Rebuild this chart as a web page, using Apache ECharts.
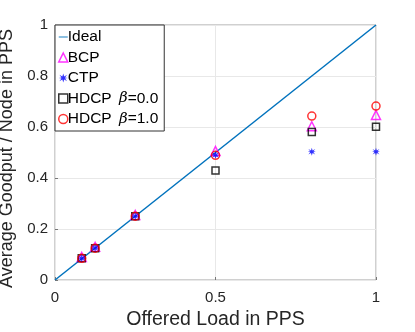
<!DOCTYPE html>
<html>
<head>
<meta charset="utf-8">
<script src="https://cdn.jsdelivr.net/npm/echarts@6/dist/echarts.min.js"></script>
<style>
  html, body { margin: 0; padding: 0; background: #fff; }
  #chart { width: 415px; height: 332px; }
</style>
</head>
<body>
<div id="chart"></div>
<script>
// offered load (x) for each measurement
const loads = [0.0833, 0.125, 0.25, 0.5, 0.8, 1.0]
const bcp = [0.09, 0.13, 0.255, 0.506, 0.603, 0.647]
const ctp = [0.085, 0.125, 0.25, 0.49, 0.503, 0.503]
const hdcp0 = [0.085, 0.125, 0.25, 0.429, 0.58, 0.601]
const hdcp1 = [0.085, 0.125, 0.25, 0.489, 0.643, 0.682]
const ideal = [[0, 0], [1, 1]]
const yTicks = [0, 0.2, 0.4, 0.6, 0.8, 1]

const font = 'Liberation Sans'
const pair = (vals) => loads.map((x, i) => [x, vals[i]])

// asterisk-like marker for CTP
const star = 'path://M5,0 L6,3.3 L9.3,1.5 L7,4.5 L10,5 L7,5.5 L9.3,8.5 L6,6.7 L5,10 L4,6.7 L0.7,8.5 L3,5.5 L0,5 L3,4.5 L0.7,1.5 L4,3.3 Z'

let chart = echarts.init(document.getElementById('chart'))

const hollow = (c) => ({ color: '#fff', borderColor: c, borderWidth: 1.5 })

let option = {
    animation: false,
    backgroundColor: '#fff',
    textStyle: { fontFamily: font },
    grid: {
        left: 55, right: 39, top: 25, bottom: 52,
        outerBoundsMode: 'none',
        show: true, borderColor: '#a0a0a0', borderWidth: 1
    },
    legend: {
        left: 55, top: 25,
        orient: 'vertical',
        backgroundColor: '#fff',
        borderColor: '#333', borderWidth: 1,
        padding: [4, 6, 4, 3],
        itemGap: 4.5,
        itemWidth: 9, itemHeight: 9,
        textStyle: {
            fontFamily: font, fontSize: 15.5, color: '#000', padding: [0, 0, 0, -5],
            rich: { i: { fontFamily: 'DejaVu Serif', fontStyle: 'italic', fontSize: 15, padding: [0, 0, 0, 3] } }
        },
        formatter: (name) => name.replace('β', '{i|β}'),
        data: [
            { name: 'Ideal', icon: 'path://M0,4.5 L10,4.5 L10,5.5 L0,5.5 Z', itemStyle: { color: '#0072BD' } },
            { name: 'BCP', icon: 'triangle', itemStyle: hollow('#ff00ff') },
            { name: 'CTP', icon: star, itemStyle: { color: '#0000ff' } },
            { name: 'HDCP β=0.0', icon: 'rect', itemStyle: hollow('#000') },
            { name: 'HDCP β=1.0', icon: 'circle', itemStyle: hollow('#ff0000') }
        ]
    },
    xAxis: {
        type: 'value', min: 0, max: 1, interval: 0.5,
        name: 'Offered Load in PPS', nameLocation: 'middle', nameGap: 30,
        nameTextStyle: { fontFamily: font, fontSize: 19.5, color: '#262626' },
        axisLine: { show: false },
        axisTick: { show: true, inside: true, length: 3, lineStyle: { color: '#777' } },
        axisLabel: { fontFamily: font, fontSize: 15, color: '#262626', margin: 10 },
        splitLine: { show: true, lineStyle: { color: '#e8e8e8' } }
    },
    yAxis: {
        type: 'value', min: 0, max: 1, interval: 0.2,
        name: 'Average Goodput / Node in PPS', nameLocation: 'middle', nameGap: 36,
        nameTextStyle: { fontFamily: font, fontSize: 18, color: '#262626', padding: [0, 12, 0, 0] },
        axisLine: { show: false },
        axisTick: { show: true, inside: true, length: 3, lineStyle: { color: '#777' } },
        axisLabel: {
            fontFamily: font, fontSize: 15, color: '#262626', margin: 7,
            formatter: (v) => yTicks.includes(Math.round(v * 10) / 10) ? String(Math.round(v * 10) / 10) : ''
        },
        splitLine: { show: true, lineStyle: { color: '#e8e8e8' } }
    },
    series: [
        {
            name: 'Ideal', type: 'line', data: ideal, showSymbol: false, symbol: 'none',
            lineStyle: { color: '#0072BD', width: 1.5 }, itemStyle: { color: '#0072BD' }, z: 2
        },
        {
            name: 'BCP', type: 'scatter', data: pair(bcp), symbol: 'triangle', symbolSize: 9,
            itemStyle: { color: 'transparent', borderColor: '#ff00ff', borderWidth: 1.5 }, z: 3
        },
        {
            name: 'CTP', type: 'scatter', data: pair(ctp), symbol: star, symbolSize: 8,
            itemStyle: { color: '#0000ff' }, z: 4
        },
        {
            name: 'HDCP β=0.0', type: 'scatter', data: pair(hdcp0), symbol: 'rect', symbolSize: 7,
            itemStyle: { color: 'transparent', borderColor: '#000', borderWidth: 1.5 }, z: 3
        },
        {
            name: 'HDCP β=1.0', type: 'scatter', data: pair(hdcp1), symbol: 'circle', symbolSize: 8,
            itemStyle: { color: 'transparent', borderColor: '#ff0000', borderWidth: 1.5 }, z: 3
        }
    ]
}

chart.setOption(option)
</script>
</body>
</html>
